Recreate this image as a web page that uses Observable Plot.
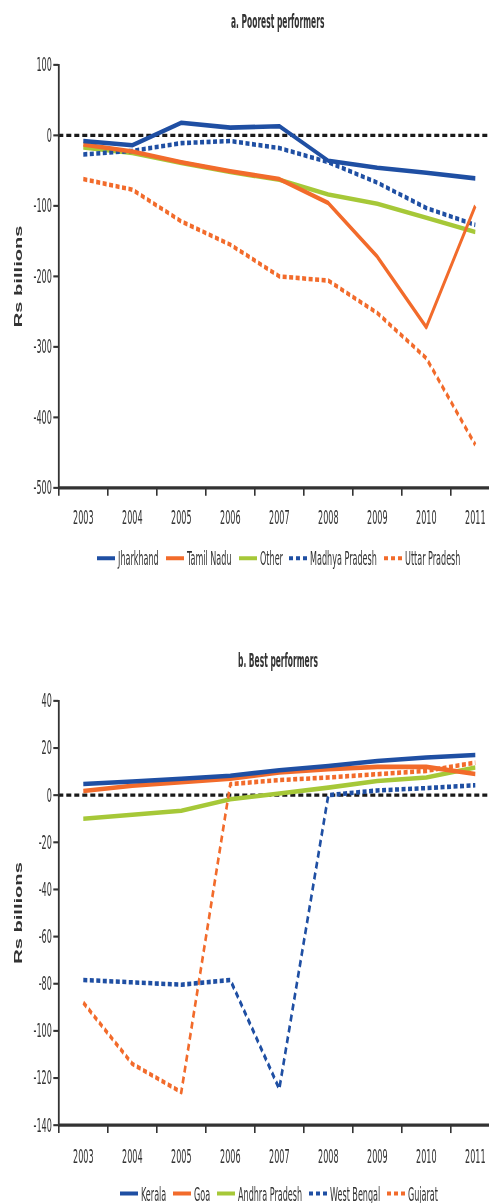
<!DOCTYPE html>
<html>
<head>
<meta charset="utf-8">
<script src="https://cdn.jsdelivr.net/npm/d3@7"></script>
<script src="https://cdn.jsdelivr.net/npm/@observablehq/plot@0.6"></script>
<style>
  html, body { margin: 0; padding: 0; background: #fff; overflow: hidden; width: 489px; height: 1203px; }
  #wrap { position: absolute; left: 0; top: 0; width: 489px; height: 687.4px; transform: scaleY(1.75); transform-origin: 0 0; }
  .title { position: absolute; left: 128px; width: 300px; text-align: center; font-family: 'Liberation Sans Narrow', 'DejaVu Sans Condensed', sans-serif; font-weight: bold; font-size: 11px; line-height: 13px; color: #333; }
  .plotbox { position: absolute; left: 0; width: 489px; }
  .legend { position: absolute; left: 29px; width: 500px; display: flex; justify-content: center; align-items: center; font-family: 'Liberation Sans Narrow', 'DejaVu Sans Condensed', sans-serif; font-size: 11.5px; line-height: 14px; color: #333; white-space: nowrap; }
  .legend .item { display: flex; align-items: center; margin: 0 3.5px; flex-shrink: 0; }
  .legend svg { margin-right: 3px; flex-shrink: 0; }
  .cx { display: inline-block; white-space: nowrap; transform-origin: 0 0; }
</style>
</head>
<body>
<div id="wrap">
  <div class="title" style="top:6px"><span class="cx">a. Poorest performers</span></div>
  <div class="plotbox" id="chartA" style="top:25px"></div>
  <div class="legend" id="legendA" style="top:312px"></div>
  <div class="title" style="top:370.5px"><span class="cx">b. Best performers</span></div>
  <div class="plotbox" id="chartB" style="top:390px"></div>
  <div class="legend" id="legendB" style="top:674.5px"></div>
</div>
<script>
// ---------- data ----------
const years = [2003, 2004, 2005, 2006, 2007, 2008, 2009, 2010, 2011];
const yearBoundaries = [2002.5, 2003.5, 2004.5, 2005.5, 2006.5, 2007.5, 2008.5, 2009.5, 2010.5];

// a. Poorest performers (Rs billions)
const jharkhand     = [-8, -14, 18, 11, 13, -36, -46, -53, -61];
const tamilNadu     = [-13, -23, -38, -51, -62, -96, -172, -272, -100];
const otherA        = [-17, -25, -39, -52, -63, -84, -97, -117, -137];
const madhyaPradesh = [-27, -22, -11, -8, -18, -38, -67, -103, -127];
const uttarPradesh  = [-62, -77, -122, -155, -200, -206, -252, -316, -439];
const yTicksA = [100, 0, -100, -200, -300, -400, -500];

// b. Best performers (Rs billions)
const kerala        = [4.7, 5.8, 7, 8.2, 10.6, 12.4, 14.5, 16, 17];
const goa           = [1.8, 4, 5.5, 7, 9.6, 11, 12, 12, 9];
const andhraPradesh = [-10, -8.3, -6.6, -1.7, 0.7, 3.2, 6, 7.5, 11.7];
const westBengal    = [-78.4, -79.4, -80.4, -78.4, -124.6, 0, 2, 3, 4.2];
const gujarat       = [-88, -114, -126, 4.7, 6.4, 7.5, 8.9, 10.3, 13.8];
const yTicksB = [40, 20, 0, -20, -40, -60, -80, -100, -120, -140];

const BLUE = "#1f4fa3", ORANGE = "#f26b2b", GREEN = "#a6c838";

const seriesA = [
  {name: "Jharkhand", values: jharkhand, color: BLUE, dashed: false},
  {name: "Tamil Nadu", values: tamilNadu, color: ORANGE, dashed: false},
  {name: "Other", values: otherA, color: GREEN, dashed: false},
  {name: "Madhya Pradesh", values: madhyaPradesh, color: BLUE, dashed: true},
  {name: "Uttar Pradesh", values: uttarPradesh, color: ORANGE, dashed: true}
];
const drawOrderA = ["Other", "Uttar Pradesh", "Madhya Pradesh", "Tamil Nadu", "Jharkhand"];

const seriesB = [
  {name: "Kerala", values: kerala, color: BLUE, dashed: false},
  {name: "Goa", values: goa, color: ORANGE, dashed: false},
  {name: "Andhra Pradesh", values: andhraPradesh, color: GREEN, dashed: false},
  {name: "West Bengal", values: westBengal, color: BLUE, dashed: true},
  {name: "Gujarat", values: gujarat, color: ORANGE, dashed: true}
];
const drawOrderB = ["Andhra Pradesh", "Gujarat", "West Bengal", "Goa", "Kerala"];

const FONT = "'Liberation Sans Narrow', 'DejaVu Sans Condensed', sans-serif";
const SQUEEZE = 0.78;

function makeChart(series, order, yTicks, marginTop, marginBottom, labelPad) {
  const yMin = d3.min(yTicks), yMax = d3.max(yTicks);
  const lines = order.map(n => {
    const s = series.find(d => d.name === n);
    const rows = years.map((yr, i) => ({year: yr, value: s.values[i]}));
    return Plot.line(rows, {
      x: "year", y: "value", stroke: s.color, strokeWidth: 2.6,
      strokeDasharray: s.dashed ? "4,2.5" : null, strokeLinejoin: "round", strokeLinecap: "butt"
    });
  });
  return Plot.plot({
    width: 489,
    height: 293,
    marginLeft: 58.3,
    marginRight: 0,
    marginTop,
    marginBottom,
    style: {fontFamily: FONT, fontSize: "11.5px", color: "#333", background: "transparent", overflow: "visible"},
    x: {domain: [2002.5, 2011.5], range: [58.3, 499.3]},
    y: {domain: [yMin, yMax]},
    marks: [
      Plot.ruleY([0], {x1: 2002.5, x2: 2011.5, stroke: "#1a1a1a", strokeWidth: 1.9, strokeDasharray: "5,3"}),
      ...lines,
      Plot.ruleX([2002.5], {y1: yMin, y2: yMax, stroke: "#333", strokeWidth: 1.8}),
      Plot.ruleY([yMin], {x1: 2002.5, x2: 2011.5, stroke: "#333", strokeWidth: 1.9}),
      Plot.axisY(yTicks, {label: null, tickSize: 5, tickPadding: 2, strokeWidth: 1.2, stroke: "#333", tickFormat: d => String(d), fontSize: 11.5}),
      Plot.axisX(yearBoundaries, {label: null, tickSize: 5, strokeWidth: 1.6, stroke: "#333", tickFormat: () => ""}),
      Plot.axisX(years, {label: null, tickSize: 0, tickPadding: labelPad, tickFormat: d => String(d), fontSize: 11.5}),
      Plot.text(["Rs billions"], {frameAnchor: "left", dx: -40, rotate: -90, textAnchor: "middle", fontWeight: "bold",
        fontFamily: "'Liberation Sans', Arial, sans-serif", fontSize: 11.5, fill: "#333"})
    ]
  });
}

function squeezeSvgText(svg) {
  svg.querySelectorAll("text").forEach(t => {
    if (t.textContent === "Rs billions" || !t.textContent) return;
    const len = t.getComputedTextLength();
    if (len > 0) {
      t.setAttribute("textLength", (len * SQUEEZE).toFixed(2));
      t.setAttribute("lengthAdjust", "spacingAndGlyphs");
    }
  });
}

function squeezeHtml(span, k) {
  const w = span.getBoundingClientRect().width;
  span.style.width = (w * k) + "px";
  span.style.transform = `scaleX(${k})`;
}

function makeLegend(el, series) {
  for (const s of series) {
    const item = document.createElement("div");
    item.className = "item";
    const sw = document.createElementNS("http://www.w3.org/2000/svg", "svg");
    sw.setAttribute("width", 18);
    sw.setAttribute("height", 8);
    const ln = document.createElementNS("http://www.w3.org/2000/svg", "line");
    ln.setAttribute("x1", 0); ln.setAttribute("x2", 18);
    ln.setAttribute("y1", 4); ln.setAttribute("y2", 4);
    ln.setAttribute("stroke", s.color);
    ln.setAttribute("stroke-width", 2.2);
    if (s.dashed) ln.setAttribute("stroke-dasharray", "4,3");
    sw.appendChild(ln);
    const t = document.createElement("span");
    t.className = "cx";
    t.textContent = s.name;
    item.appendChild(sw);
    item.appendChild(t);
    el.appendChild(item);
  }
}

const chartA = makeChart(seriesA, drawOrderA, yTicksA, 11.57, 39.71, 12.5);
const chartB = makeChart(seriesB, drawOrderB, yTicksB, 10, 40.54, 13.5);
document.getElementById("chartA").appendChild(chartA);
document.getElementById("chartB").appendChild(chartB);
squeezeSvgText(chartA);
squeezeSvgText(chartB);
makeLegend(document.getElementById("legendA"), seriesA);
makeLegend(document.getElementById("legendB"), seriesB);
document.querySelectorAll(".legend .cx").forEach(s => squeezeHtml(s, SQUEEZE));
document.querySelectorAll(".title .cx").forEach(s => squeezeHtml(s, 0.76));
</script>
</body>
</html>
